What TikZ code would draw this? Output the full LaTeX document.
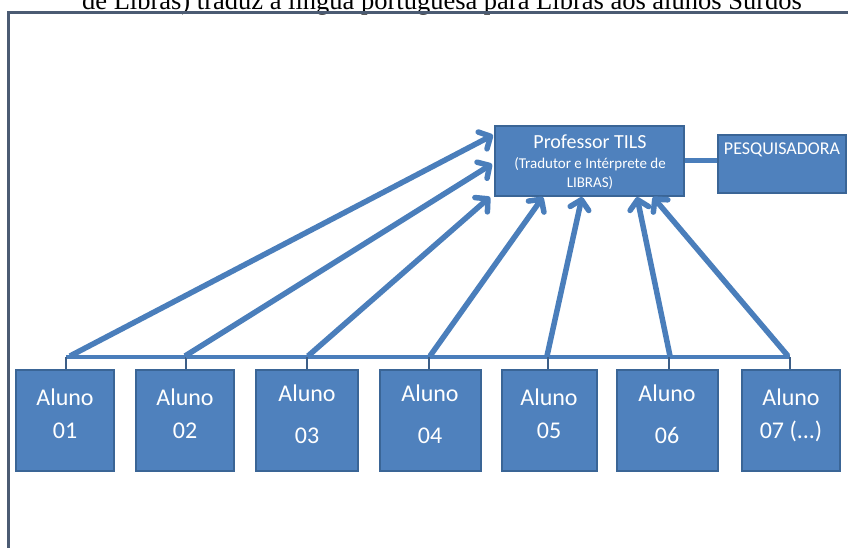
\documentclass[tikz,border=0pt]{standalone}
\usepackage{fontspec}
\setmainfont{Liberation Serif}
\newfontfamily\calib{Carlito}
\usetikzlibrary{arrows.meta}

\definecolor{boxfill}{HTML}{4F81BD}
\definecolor{boxedge}{HTML}{3A6596}
\definecolor{linkblue}{HTML}{4A7EBB}
\definecolor{tickcol}{HTML}{3D5F88}
\definecolor{framecol}{HTML}{4B5B73}

\begin{document}
\begin{tikzpicture}[x=1pt,y=-1pt,
  blockbox/.style={draw=boxedge, line width=1.5pt, fill=boxfill, inner sep=0pt},
  alunobox/.style={blockbox, minimum height=101pt},
  alunotext/.style={text=white, anchor=base, inner sep=0pt,
    font=\calib\fontsize{24}{24}\selectfont},
  proftext/.style={text=white, anchor=base, inner sep=0pt},
  link/.style={draw=linkblue, line width=5.5pt,
    -{Straight Barb[length=9pt,width=19pt,round]}},
  barline/.style={draw=linkblue, line width=4.5pt},
  tickline/.style={draw=tickcol, line width=2.5pt},
]
\useasboundingbox (0,0) rectangle (848,548);
\clip (0,0) rectangle (848,548);

% caption line, partly cut by the page edge
\node[anchor=base, inner sep=0pt, font=\fontsize{26.5}{26.5}\selectfont]
  (title) at (442,10) {de Libras) traduz a língua portuguesa para Libras aos alunos Surdos};

% outer frame
\draw[framecol, line width=2.8pt] (8.3,560) -- (8.3,12.7) -- (860,12.7);

% teacher and researcher
\node[blockbox, minimum width=189pt, minimum height=70pt] (prof) at (589.5,161) {};
\node[proftext, font=\calib\fontsize{20}{20}\selectfont] (profA) at (590,149) {Professor TILS};
\node[proftext, font=\calib\fontsize{15}{15}\selectfont] (profB) at (590,168) {(Tradutor e Intérprete de};
\node[proftext, font=\calib\fontsize{15}{15}\selectfont] (profC) at (590,187) {LIBRAS)};

\node[blockbox, minimum width=128pt, minimum height=58pt] (pesq) at (782,164) {};
\node[proftext, font=\calib\fontsize{18}{18}\selectfont] (pesqT) at (782,155) {PESQUISADORA};

\draw[linkblue, line width=5pt] (prof.east) -- (prof.east -| pesq.west);

% students
\node[alunobox, minimum width=98pt]  (b1) at (65,420.5) {};
\node[alunobox, minimum width=98pt]  (b2) at (185,420.5) {};
\node[alunobox, minimum width=102pt] (b3) at (307,420.5) {};
\node[alunobox, minimum width=101pt] (b4) at (430.5,420.5) {};
\node[alunobox, minimum width=95pt]  (b5) at (549.5,420.5) {};
\node[alunobox, minimum width=101pt] (b6) at (667.5,420.5) {};
\node[alunobox, minimum width=98pt]  (b7) at (791,420.5) {};

\node[alunotext] (b1a) at (65,405) {Aluno};
\node[alunotext] (b1b) at (65,438) {01};
\node[alunotext] (b2a) at (185,405) {Aluno};
\node[alunotext] (b2b) at (185,438) {02};
\node[alunotext] (b3a) at (307,401) {Aluno};
\node[alunotext] (b3b) at (307,443) {03};
\node[alunotext] (b4a) at (430,401) {Aluno};
\node[alunotext] (b4b) at (430,443) {04};
\node[alunotext] (b5a) at (549,405) {Aluno};
\node[alunotext] (b5b) at (549,438) {05};
\node[alunotext] (b6a) at (667,401) {Aluno};
\node[alunotext] (b6b) at (667,443) {06};
\node[alunotext] (b7a) at (791,405) {Aluno};
\node[alunotext] (b7b) at (791,438) {07 (...)};

% joints on the shared bar
\coordinate (t1) at (66,357);
\coordinate (t2) at (186,357);
\coordinate (t3) at (307,357);
\coordinate (t4) at (429,357);
\coordinate (t5) at (548,357);
\coordinate (t6) at (669,357);
\coordinate (t7) at (790,357);

\draw[barline] (t1) -- (t7);
\foreach \i/\b in {1/b1,2/b2,3/b3,4/b4,5/b5,6/b6,7/b7}
  \draw[tickline] (t\i) -- (t\i |- \b.north);

% start points of the arrows on the bar
\coordinate (s1) at (70,356);
\coordinate (s2) at (185,356);
\coordinate (s3) at (308,356);
\coordinate (s4) at (430,356);
\coordinate (s5) at (547,356);
\coordinate (s6) at (670,356);
\coordinate (s7) at (788,356);

% arrival points at the teacher box
\coordinate (e1) at (493,135);
\coordinate (e2) at (492,164);
\coordinate (e3) at (490,197);
\coordinate (e4) at (543,197);
\coordinate (e5) at (582,197);
\coordinate (e6) at (637,197);
\coordinate (e7) at (653,197);

\foreach \i in {1,...,7}
  \draw[link] (s\i) -- (e\i);
\end{tikzpicture}
\end{document}
